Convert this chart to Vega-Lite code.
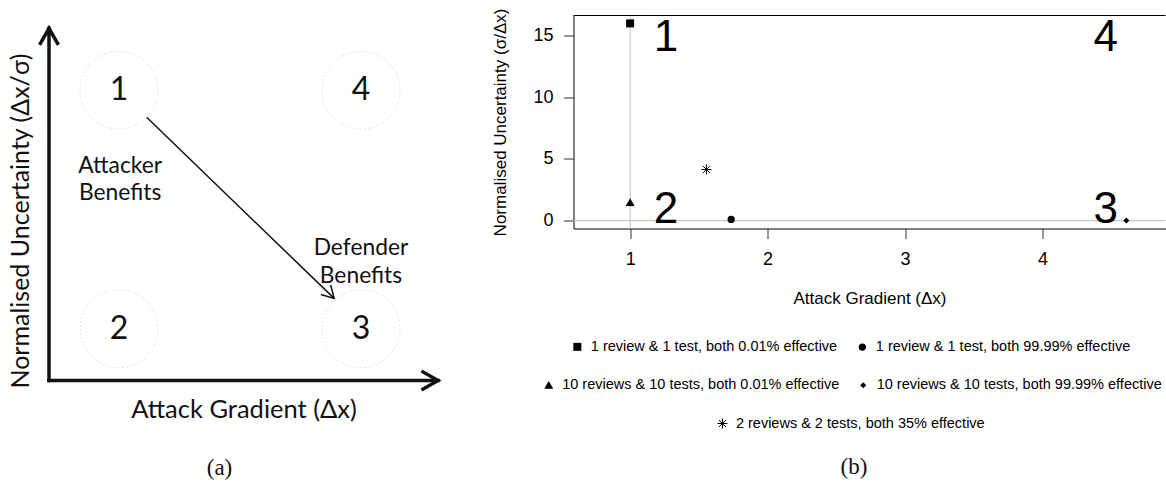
{
  "$schema": "https://vega.github.io/schema/vega-lite/v6.json",
  "background": "white",
  "padding": {"left": 8, "top": 7.5, "right": 0, "bottom": 0},
  "spacing": 46.5,
  "config": {
    "view": {"stroke": null},
    "axis": {"grid": false},
    "text": {"color": "black"}
  },
  "datasets": {
    "diagramAxes": [
      {"x0": 0, "y0": 0, "x1": 10, "y1": 0},
      {"x0": 0, "y0": 0, "x1": 0, "y1": 9.65}
    ],
    "trend": [
      {"x0": 2.51, "y0": 7.21, "x1": 7.33, "y1": 2.25}
    ],
    "quadrants": [
      {"q": "1", "x": 1.8, "y": 7.95},
      {"q": "2", "x": 1.8, "y": 1.42},
      {"q": "3", "x": 8.02, "y": 1.42},
      {"q": "4", "x": 8.02, "y": 7.95}
    ],
    "benefits": [
      {"label": "Attacker\nBenefits", "x": 1.83, "y": 5.89},
      {"label": "Defender\nBenefits", "x": 8.02, "y": 3.62}
    ],
    "refX": [{"gradient": 1}],
    "refY": [{"uncertainty": 0}],
    "frameTop": [{"uncertainty": 16.64}],
    "zones": [
      {"zone": "1", "gradient": 1.26, "uncertainty": 14.8},
      {"zone": "2", "gradient": 1.26, "uncertainty": 0.85},
      {"zone": "3", "gradient": 4.46, "uncertainty": 0.85},
      {"zone": "4", "gradient": 4.46, "uncertainty": 14.8}
    ],
    "scenarios": [
      {"series": "1 review & 1 test, both 0.01% effective", "gradient": 1, "uncertainty": 16},
      {"series": "1 review & 1 test, both 99.99% effective", "gradient": 1.735, "uncertainty": 0.1},
      {"series": "10 reviews & 10 tests, both 0.01% effective", "gradient": 1, "uncertainty": 1.5},
      {"series": "10 reviews & 10 tests, both 99.99% effective", "gradient": 4.61, "uncertainty": 0},
      {"series": "2 reviews & 2 tests, both 35% effective", "gradient": 1.555, "uncertainty": 4.15}
    ]
  },
  "hconcat": [
    {
      "width": 389,
      "height": 365,
      "title": {"text": "(a)", "orient": "bottom", "font": "Liberation Serif", "fontSize": 23, "fontWeight": "normal", "color": "#111", "frame": "group", "anchor": "middle", "dx": -24, "offset": 34},
      "layer": [
        {
          "data": {"name": "diagramAxes"},
          "mark": {"type": "rule", "color": "#111", "strokeWidth": 3.5, "strokeCap": "square"},
          "encoding": {
            "x": {"field": "x0", "type": "quantitative", "scale": {"domain": [0, 10], "nice": false, "zero": false},
                  "axis": {"title": "Attack Gradient (Δx)", "domain": false, "ticks": false, "labels": false, "titleFont": "Lato", "titleFontSize": 25.5, "titleFontWeight": "normal", "titleColor": "#111", "titlePadding": 17}},
            "y": {"field": "y0", "type": "quantitative", "scale": {"domain": [0, 10], "nice": false, "zero": false},
                  "axis": {"title": "Normalised Uncertainty (Δx/σ)", "domain": false, "ticks": false, "labels": false, "titleFont": "Lato", "titleFontSize": 25, "titleFontWeight": "normal", "titleColor": "#111", "titlePadding": 16, "titleY": 205}},
            "x2": {"field": "x1"},
            "y2": {"field": "y1"}
          }
        },
        {
          "data": {"name": "diagramAxes"},
          "transform": [{"filter": "datum.y1 == 0"}],
          "mark": {"type": "point", "shape": "M-0.57,1L0,0L0.57,1", "size": 900, "angle": 90, "filled": false, "color": "#111", "opacity": 1, "strokeWidth": 3.5, "strokeJoin": "miter", "strokeCap": "square"},
          "encoding": {
            "x": {"field": "x1", "type": "quantitative", "scale": {"domain": [0, 10], "nice": false, "zero": false}},
            "y": {"field": "y1", "type": "quantitative", "scale": {"domain": [0, 10], "nice": false, "zero": false}}
          }
        },
        {
          "data": {"name": "diagramAxes"},
          "transform": [{"filter": "datum.x1 == 0"}],
          "mark": {"type": "point", "shape": "M-0.57,1L0,0L0.57,1", "size": 900, "angle": 0, "filled": false, "color": "#111", "opacity": 1, "strokeWidth": 3.5, "strokeJoin": "miter", "strokeCap": "square"},
          "encoding": {
            "x": {"field": "x1", "type": "quantitative", "scale": {"domain": [0, 10], "nice": false, "zero": false}},
            "y": {"field": "y1", "type": "quantitative", "scale": {"domain": [0, 10], "nice": false, "zero": false}}
          }
        },
        {
          "data": {"name": "trend"},
          "mark": {"type": "rule", "color": "#111", "strokeWidth": 1.5},
          "encoding": {
            "x": {"field": "x0", "type": "quantitative", "scale": {"domain": [0, 10], "nice": false, "zero": false}},
            "y": {"field": "y0", "type": "quantitative", "scale": {"domain": [0, 10], "nice": false, "zero": false}},
            "x2": {"field": "x1"},
            "y2": {"field": "y1"}
          }
        },
        {
          "data": {"name": "trend"},
          "mark": {"type": "point", "shape": "M-0.57,1L0,0L0.57,1", "size": 576, "angle": 136, "filled": false, "color": "#111", "opacity": 1, "strokeWidth": 1.5},
          "encoding": {
            "x": {"field": "x1", "type": "quantitative", "scale": {"domain": [0, 10], "nice": false, "zero": false}},
            "y": {"field": "y1", "type": "quantitative", "scale": {"domain": [0, 10], "nice": false, "zero": false}}
          }
        },
        {
          "data": {"name": "quadrants"},
          "mark": {"type": "point", "shape": "circle", "size": 6084, "filled": false, "color": "#e2e2e2", "opacity": 1, "strokeWidth": 1, "strokeDash": [2, 2]},
          "encoding": {
            "x": {"field": "x", "type": "quantitative", "scale": {"domain": [0, 10], "nice": false, "zero": false}},
            "y": {"field": "y", "type": "quantitative", "scale": {"domain": [0, 10], "nice": false, "zero": false}}
          }
        },
        {
          "data": {"name": "quadrants"},
          "mark": {"type": "text", "font": "Lato", "fontSize": 32, "color": "#111", "align": "center", "baseline": "middle"},
          "encoding": {
            "x": {"field": "x", "type": "quantitative", "scale": {"domain": [0, 10], "nice": false, "zero": false}},
            "y": {"field": "y", "type": "quantitative", "scale": {"domain": [0, 10], "nice": false, "zero": false}},
            "text": {"field": "q"}
          }
        },
        {
          "data": {"name": "benefits"},
          "mark": {"type": "text", "font": "Lato", "fontSize": 22.8, "color": "#111", "align": "center", "baseline": "middle", "lineBreak": "\n", "lineHeight": 27.5},
          "encoding": {
            "x": {"field": "x", "type": "quantitative", "scale": {"domain": [0, 10], "nice": false, "zero": false}},
            "y": {"field": "y", "type": "quantitative", "scale": {"domain": [0, 10], "nice": false, "zero": false}},
            "text": {"field": "label"}
          }
        }
      ]
    },
    {
      "width": 592,
      "height": 213,
      "title": {"text": "(b)", "orient": "bottom", "font": "Liberation Serif", "fontSize": 23, "fontWeight": "normal", "color": "#111", "frame": "group", "anchor": "middle", "dx": -15.5, "offset": 25},
      "resolve": {"scale": {"shape": "independent", "size": "independent"}},
      "layer": [
        {
          "data": {"name": "refX"},
          "mark": {"type": "rule", "color": "#c8c8c8", "strokeWidth": 1.2},
          "encoding": {
            "x": {"field": "gradient", "type": "quantitative", "scale": {"domain": [0.588, 4.895], "nice": false, "zero": false},
                  "axis": {"orient": "bottom", "values": [1, 2, 3, 4], "format": "d", "title": "Attack Gradient (Δx)", "tickSize": 10, "tickColor": "#333", "domainColor": "black", "labelFont": "Liberation Sans", "labelFontSize": 18, "labelColor": "black", "labelPadding": 12, "labelFlush": false, "titleFont": "Liberation Sans", "titleFontSize": 17, "titleFontWeight": "normal", "titleColor": "black", "titlePadding": 22}}
          }
        },
        {
          "data": {"name": "refY"},
          "mark": {"type": "rule", "color": "#c8c8c8", "strokeWidth": 1.2},
          "encoding": {
            "y": {"field": "uncertainty", "type": "quantitative", "scale": {"domain": [-0.64, 16.64], "nice": false, "zero": false},
                  "axis": {"orient": "left", "values": [0, 5, 10, 15], "format": "d", "title": "Normalised Uncertainty (σ/Δx)", "tickSize": 10, "tickColor": "#333", "domainColor": "black", "labelFont": "Liberation Sans", "labelFontSize": 18, "labelColor": "black", "labelPadding": 10.5, "labelFlush": false, "titleFont": "Liberation Sans", "titleFontSize": 17, "titleFontWeight": "normal", "titleColor": "black", "titlePadding": 23}}
          }
        },
        {
          "data": {"name": "frameTop"},
          "mark": {"type": "rule", "color": "black", "strokeWidth": 1},
          "encoding": {
            "y": {"field": "uncertainty", "type": "quantitative", "scale": {"domain": [-0.64, 16.64], "nice": false, "zero": false}}
          }
        },
        {
          "data": {"name": "zones"},
          "mark": {"type": "text", "font": "Liberation Sans", "fontSize": 44, "color": "black", "align": "center", "baseline": "middle"},
          "encoding": {
            "x": {"field": "gradient", "type": "quantitative", "scale": {"domain": [0.588, 4.895], "nice": false, "zero": false}},
            "y": {"field": "uncertainty", "type": "quantitative", "scale": {"domain": [-0.64, 16.64], "nice": false, "zero": false}},
            "text": {"field": "zone"}
          }
        },
        {
          "data": {"name": "scenarios"},
          "transform": [{"filter": {"field": "series", "oneOf": ["1 review & 1 test, both 0.01% effective", "1 review & 1 test, both 99.99% effective"]}}],
          "mark": {"type": "point", "filled": true, "color": "black", "opacity": 1},
          "encoding": {
            "x": {"field": "gradient", "type": "quantitative", "scale": {"domain": [0.588, 4.895], "nice": false, "zero": false}},
            "y": {"field": "uncertainty", "type": "quantitative", "scale": {"domain": [-0.64, 16.64], "nice": false, "zero": false}},
            "shape": {"field": "series", "type": "nominal", "title": null,
                      "scale": {"domain": ["1 review & 1 test, both 0.01% effective", "1 review & 1 test, both 99.99% effective"], "range": ["square", "circle"]},
                      "legend": {"orient": "none", "legendX": -3.4, "legendY": 323.75, "direction": "horizontal", "padding": 0, "labelFont": "Liberation Sans", "labelFontSize": 14.5, "labelColor": "black", "labelOffset": 6.2, "labelLimit": 0, "columnPadding": 17, "symbolFillColor": "black"}},
            "size": {"field": "series", "type": "nominal", "title": null,
                     "scale": {"type": "point", "padding": 0, "domain": ["1 review & 1 test, both 0.01% effective", "1 review & 1 test, both 99.99% effective"], "range": [64, 53]}}
          }
        },
        {
          "data": {"name": "scenarios"},
          "transform": [{"filter": {"field": "series", "oneOf": ["10 reviews & 10 tests, both 0.01% effective", "10 reviews & 10 tests, both 99.99% effective"]}}],
          "mark": {"type": "point", "filled": true, "color": "black", "opacity": 1},
          "encoding": {
            "x": {"field": "gradient", "type": "quantitative", "scale": {"domain": [0.588, 4.895], "nice": false, "zero": false}},
            "y": {"field": "uncertainty", "type": "quantitative", "scale": {"domain": [-0.64, 16.64], "nice": false, "zero": false}},
            "shape": {"field": "series", "type": "nominal", "title": null,
                      "scale": {"domain": ["10 reviews & 10 tests, both 0.01% effective", "10 reviews & 10 tests, both 99.99% effective"], "range": ["triangle-up", "diamond"]},
                      "legend": {"orient": "none", "legendX": -32, "legendY": 361.75, "direction": "horizontal", "padding": 0, "labelFont": "Liberation Sans", "labelFontSize": 14.5, "labelColor": "black", "labelOffset": 6.2, "labelLimit": 0, "columnPadding": 16.5, "symbolFillColor": "black"}},
            "size": {"field": "series", "type": "nominal", "title": null,
                     "scale": {"type": "point", "padding": 0, "domain": ["10 reviews & 10 tests, both 0.01% effective", "10 reviews & 10 tests, both 99.99% effective"], "range": [81, 36]}}
          }
        },
        {
          "data": {"name": "scenarios"},
          "transform": [{"filter": {"field": "series", "oneOf": ["2 reviews & 2 tests, both 35% effective"]}}],
          "mark": {"type": "point", "filled": false, "color": "black", "opacity": 1, "strokeWidth": 1, "size": 100},
          "encoding": {
            "x": {"field": "gradient", "type": "quantitative", "scale": {"domain": [0.588, 4.895], "nice": false, "zero": false}},
            "y": {"field": "uncertainty", "type": "quantitative", "scale": {"domain": [-0.64, 16.64], "nice": false, "zero": false}},
            "shape": {"field": "series", "type": "nominal", "title": null,
                      "scale": {"domain": ["2 reviews & 2 tests, both 35% effective"], "range": ["M0,-1L0,1M-1,0L1,0M-0.7,-0.7L0.7,0.7M-0.7,0.7L0.7,-0.7"]},
                      "legend": {"orient": "none", "legendX": 141.7, "legendY": 400.75, "direction": "horizontal", "padding": 0, "labelFont": "Liberation Sans", "labelFontSize": 14.5, "labelColor": "black", "labelOffset": 6.2, "labelLimit": 0, "symbolSize": 100, "symbolStrokeWidth": 1, "symbolStrokeColor": "black"}}
          }
        }
      ]
    }
  ]
}
